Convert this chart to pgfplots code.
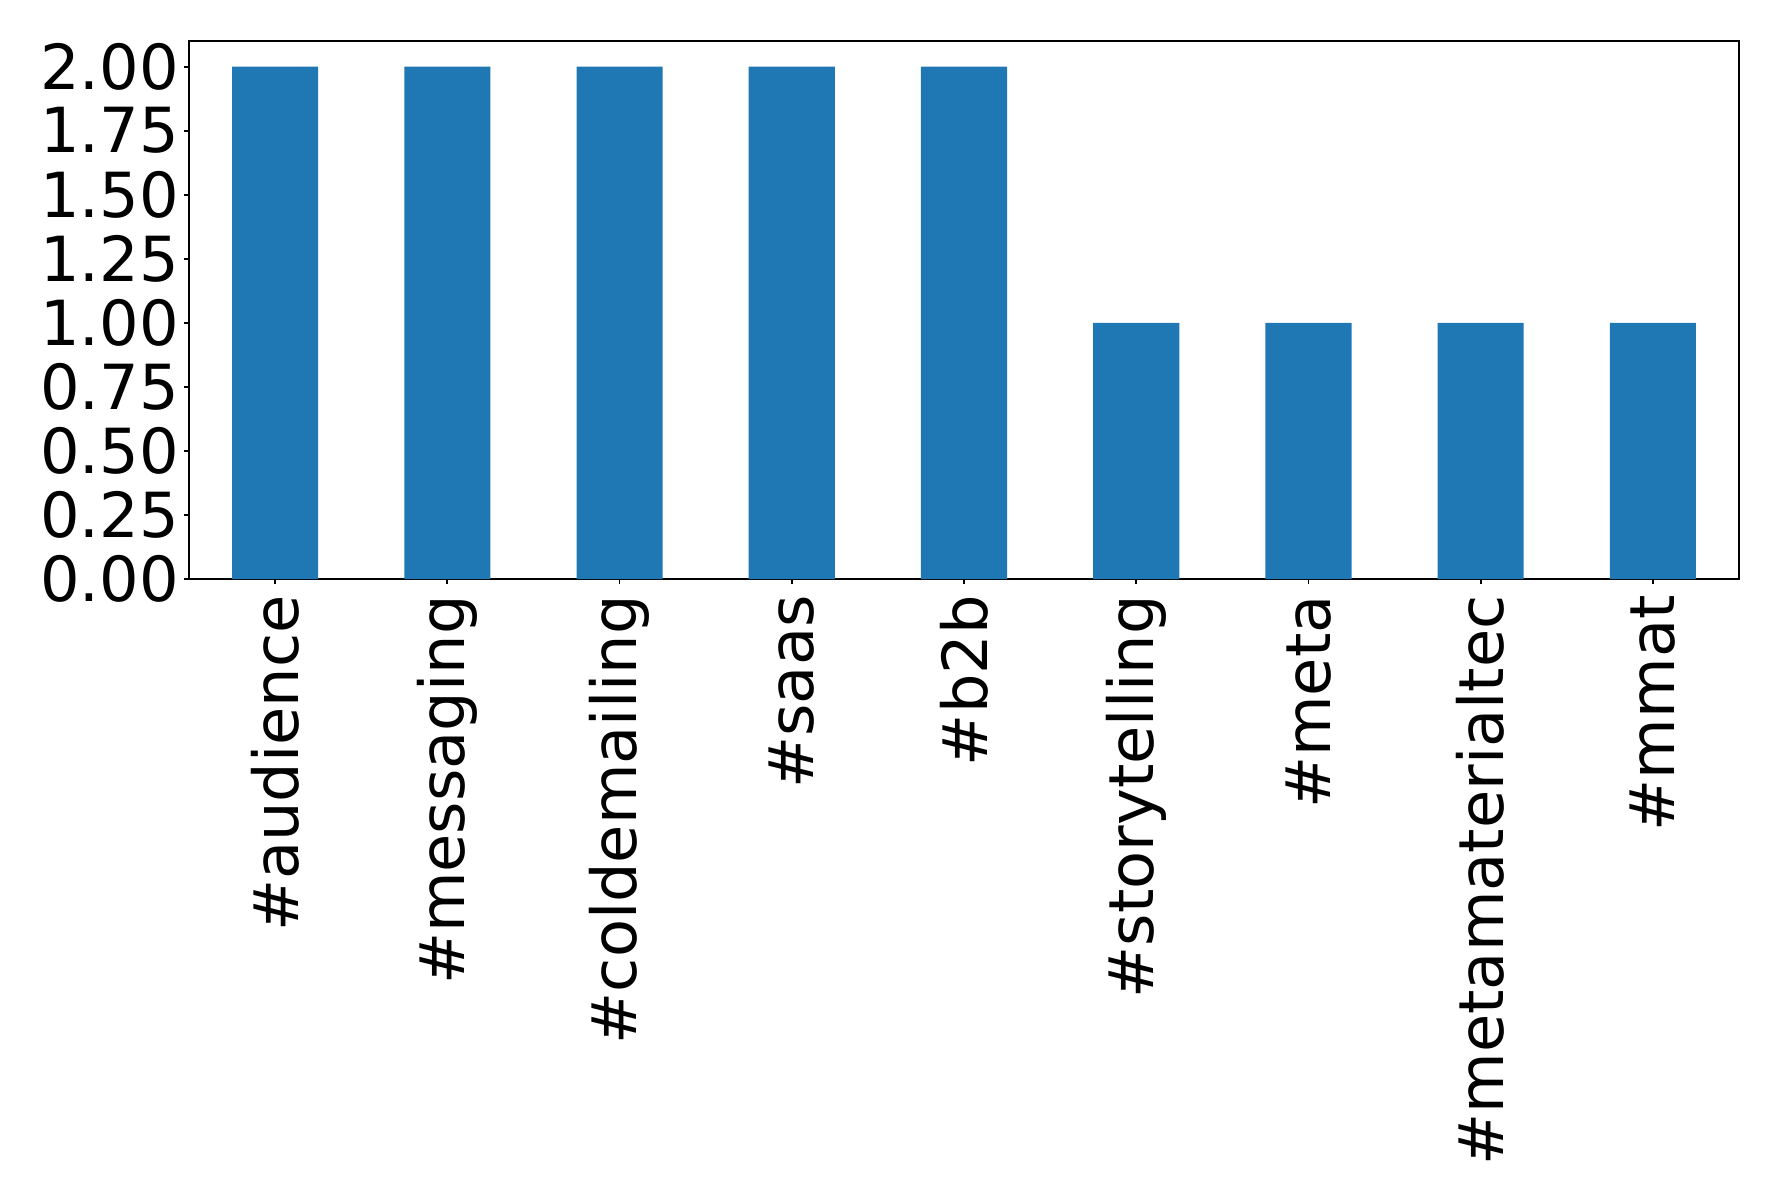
\documentclass[border=0pt]{standalone}
\usepackage{pgfplots}
\pgfplotsset{compat=1.18}
\usepackage{fontspec}
\setmainfont{DejaVu Sans}
\definecolor{mplblue}{HTML}{1F77B4}
\begin{document}
\begin{tikzpicture}
\begin{axis}[
  scale only axis,
  width=775pt, height=269pt,
  xmin=-0.5, xmax=8.5, ymin=0, ymax=2.1,
  axis line style={line width=0.9pt},
  tick align=outside, tick pos=left,
  major tick length=2.5pt,
  every tick/.style={black, line width=0.9pt},
  xtick={0,...,8},
  xticklabels={\#audience,\#messaging,\#coldemailing,\#saas,\#b2b,\#storytelling,\#meta,\#metamaterialtec,\#mmat},
  ytick={0,0.25,0.5,0.75,1,1.25,1.5,1.75,2},
  yticklabel style={/pgf/number format/fixed,/pgf/number format/fixed zerofill,/pgf/number format/precision=2},
  /pgf/number format/assume math mode=true,
  tick label style={font=\fontsize{31.1}{36}\selectfont},
  xticklabel style={rotate=90, anchor=east, inner sep=0pt, xshift=-5.5pt},
  yticklabel style={anchor=east, inner sep=0pt, xshift=-2.5pt},
  ybar, bar width=0.5,
]
\addplot[fill=mplblue, draw=none] coordinates {
(0,2) (1,2) (2,2) (3,2) (4,2) (5,1) (6,1) (7,1) (8,1)};
\end{axis}
\pgfresetboundingbox
\path (current axis.south west) ++(-94.5pt,-311pt) coordinate (bl);
\path (current axis.north east) ++(19.5pt,20.5pt) coordinate (tr);
\path (bl) rectangle (tr);
\end{tikzpicture}
\end{document}
